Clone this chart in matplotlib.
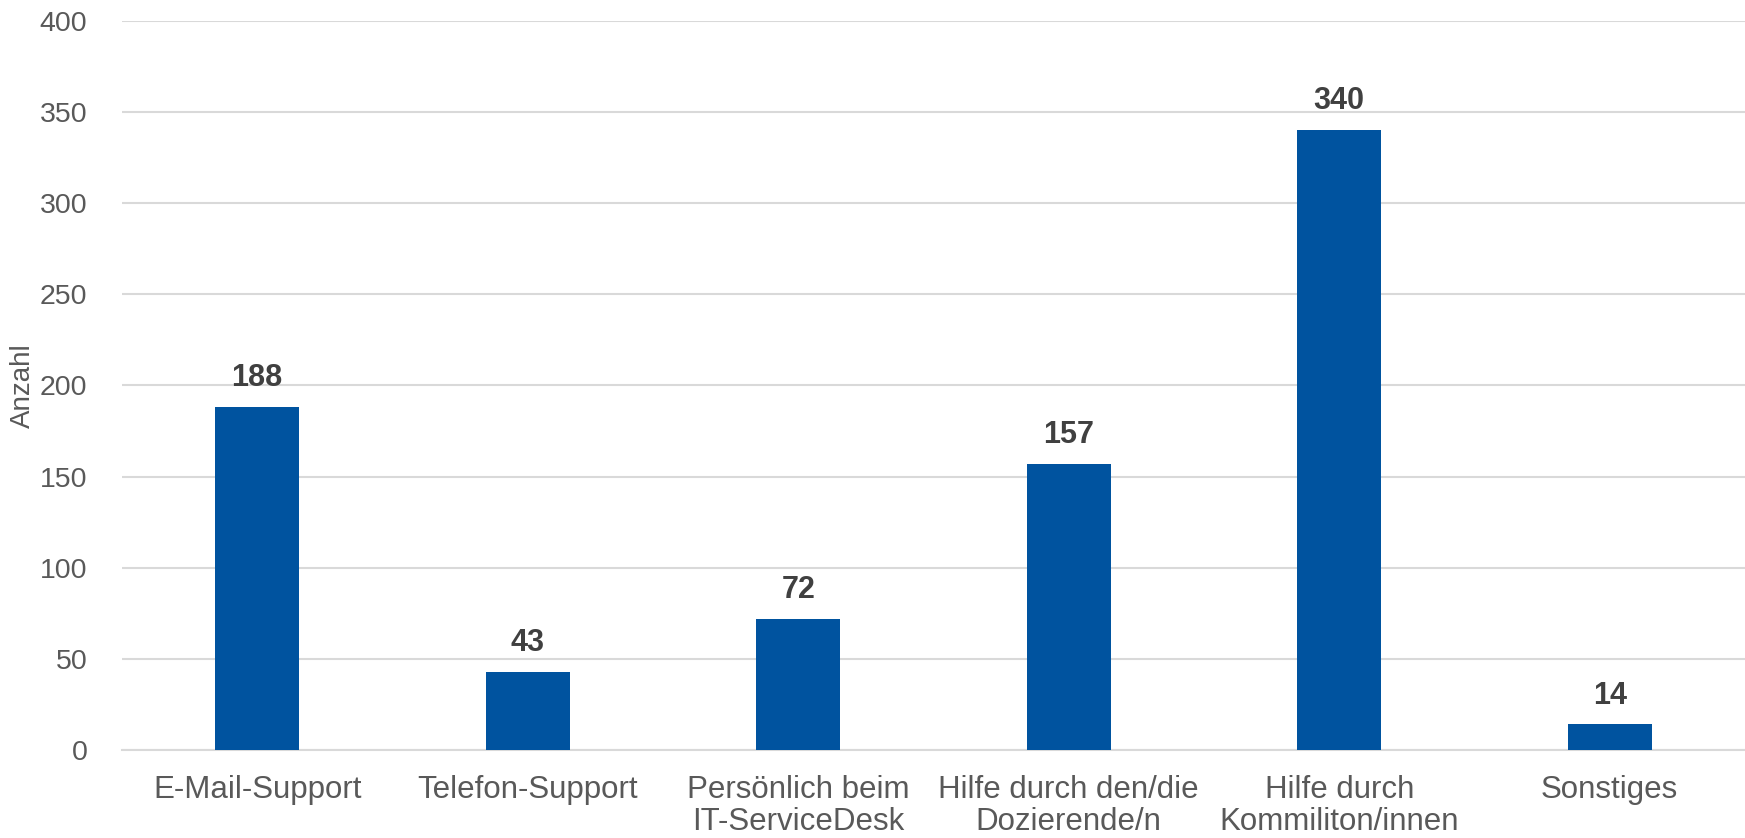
import numpy as np
import matplotlib
matplotlib.use("Agg")
import matplotlib.pyplot as plt

plt.rcParams['font.family'] = ['Liberation Sans', 'DejaVu Sans']

categories = ["E-Mail-Support", "Telefon-Support", "Persönlich beim\nIT-ServiceDesk",
              "Hilfe durch den/die\nDozierende/n", "Hilfe durch\nKommiliton/innen", "Sonstiges"]
values = [188, 43, 72, 157, 340, 14]
yticks = [0, 50, 100, 150, 200, 250, 300, 350, 400]

BAR_COLOR = "#00539F"
TEXT_COLOR = "#595959"
LABEL_COLOR = "#404040"
GRID_COLOR = "#D9D9D9"

fig = plt.figure(figsize=(17.45, 8.38), dpi=100)
ax = fig.add_axes([0.0699, 0.105, 0.9301, 0.870])

x = np.arange(len(categories))
ax.bar(x, values, width=0.31, color=BAR_COLOR, zorder=3)

# data labels above bars
for xi, v in zip(x, values):
    ax.annotate(str(v), (xi, v), xytext=(0, 10), textcoords="offset points",
                ha="center", va="bottom", fontsize=22, fontweight="bold",
                color=LABEL_COLOR)

ax.set_xlim(-0.5, len(categories) - 0.5)
ax.set_ylim(0, 400)
ax.set_yticks(yticks)
ax.yaxis.grid(True, color=GRID_COLOR, linewidth=1.5, zorder=0)
ax.set_axisbelow(True)

ax.set_xticks(x)
ax.set_xticklabels(categories, fontsize=22.5, color=TEXT_COLOR, linespacing=1.1)
ax.tick_params(axis="x", length=0, pad=18)
ax.tick_params(axis="y", length=0, pad=25, labelsize=20.5, labelcolor=TEXT_COLOR)

for s in ["top", "right", "left"]:
    ax.spines[s].set_visible(False)
ax.spines["bottom"].set_color(GRID_COLOR)
ax.spines["bottom"].set_linewidth(1.5)

fig.text(23 / 1745, 0.105 + 0.870 * 0.5, "Anzahl", rotation=90, fontsize=20,
         color=TEXT_COLOR, ha="center", va="center")

fig.savefig("out.png", dpi=100)
